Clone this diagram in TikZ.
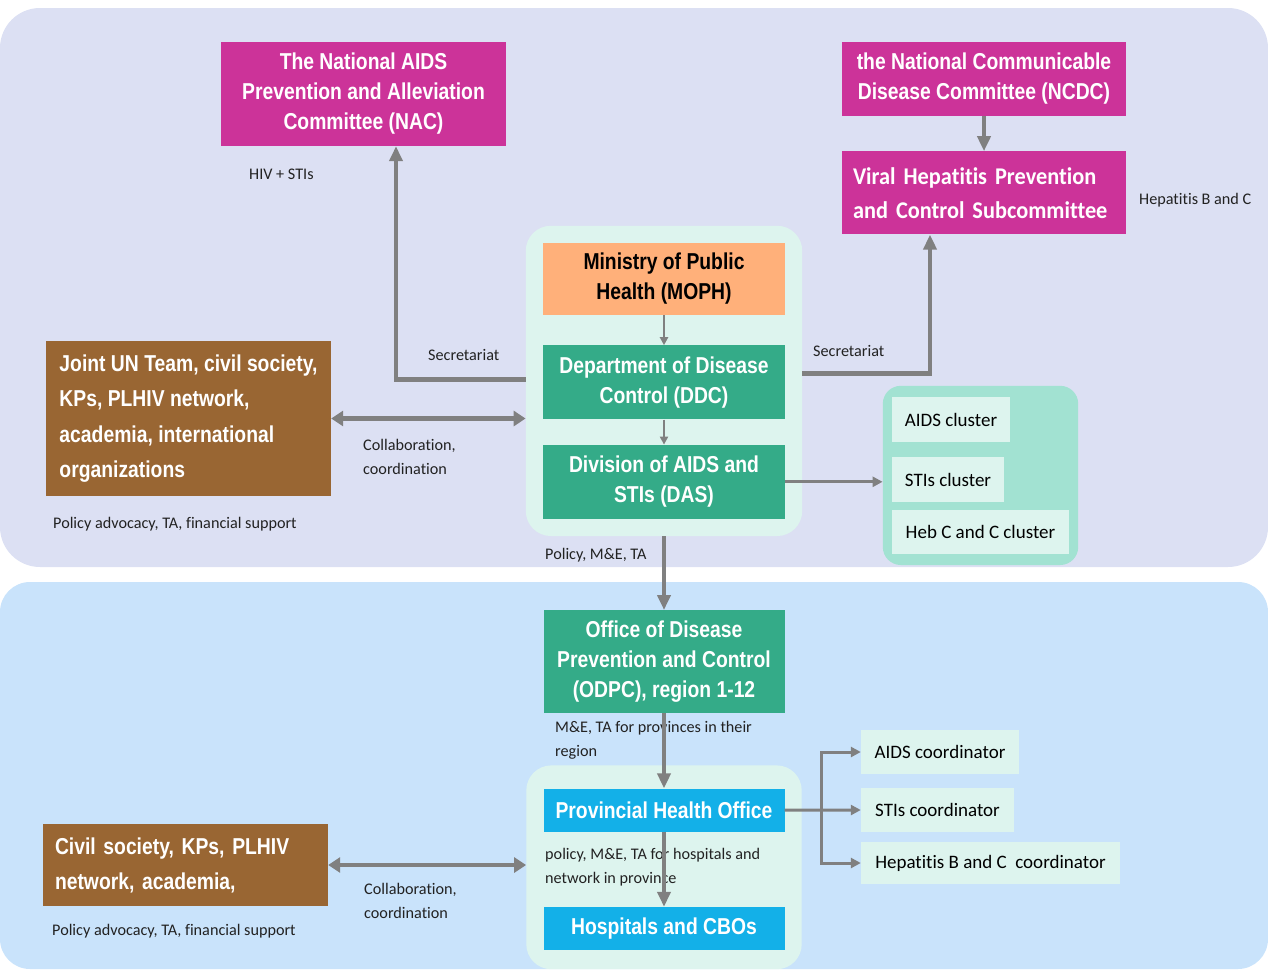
\documentclass[tikz,border=0pt]{standalone}
\usepackage{fontspec}
\setmainfont[Ligatures=NoCommon]{Carlito}
\newfontfamily\narrowfont[FakeStretch=0.84]{Liberation Sans}
\newfontfamily\viralfont[Ligatures=NoCommon, FakeStretch=0.93]{Carlito}
\usetikzlibrary{arrows.meta,positioning,calc,fit,backgrounds}

\definecolor{panelTop}{HTML}{DCE0F3}
\definecolor{panelBottom}{HTML}{C9E3FB}
\definecolor{groupMint}{HTML}{DDF4EE}
\definecolor{clusterMint}{HTML}{A2E2D2}
\definecolor{committee}{HTML}{CC3399}
\definecolor{ministry}{HTML}{FFB07A}
\definecolor{department}{HTML}{34AB88}
\definecolor{partner}{HTML}{996633}
\definecolor{provincial}{HTML}{13B0E8}
\definecolor{connector}{HTML}{808080}
\definecolor{labelText}{HTML}{222222}

\tikzstyle{org} = [rectangle, inner sep=0pt,
                   text=white,
                   align=center,
                   font=\narrowfont\bfseries\fontsize{23}{30}\selectfont]
\tikzstyle{committee box} = [org, fill=committee, minimum width=284pt]
\tikzstyle{ministry box} = [org, fill=ministry, text=black,
                   minimum width=242pt, minimum height=72pt]
\tikzstyle{department box} = [org, fill=department, minimum width=242pt]
\tikzstyle{partner box} = [org, fill=partner, minimum width=285pt,
                   align=left]
\tikzstyle{provincial box} = [org, fill=provincial,
                   minimum width=241pt, minimum height=43pt]
\tikzstyle{unit} = [rectangle, inner sep=0pt, fill=groupMint,
                   text=black,
                   font=\fontsize{19}{23}\selectfont]
\tikzstyle{group} = [rectangle, rounded corners=25pt, fill=groupMint,
                   inner sep=17pt]
\tikzstyle{note} = [inner sep=0pt, anchor=west, align=left,
                   text=labelText,
                   font=\fontsize{16.2}{24}\selectfont]
\tikzstyle{flow} = [draw=connector, line width=4.5pt,
                   -{Triangle[length=15pt,width=13pt]}]
\tikzstyle{both ways} = [draw=connector, line width=4.5pt,
                   {Triangle[length=12pt,width=15pt]}-{Triangle[length=12pt,width=15pt]}]
\tikzstyle{thin flow} = [draw=connector, line width=2pt,
                   -{Triangle[length=8pt,width=8pt]}]
\tikzstyle{branch flow} = [draw=connector, line width=3pt,
                   -{Triangle[length=10pt,width=10pt]}]

\begin{document}
\begin{tikzpicture}[x=1pt, y=-1pt]

  \useasboundingbox (0,0) rectangle (1268,969);

  % national level
  \node (nac) [committee box, minimum width=285pt, minimum height=104pt] at (363.5,94) {
    The National AIDS\\
    Prevention and Alleviation\\
    Committee (NAC)
  };

  \node (ncdc) [committee box, minimum height=74pt] at (984,79) {
    the National Communicable\\
    Disease Committee (NCDC)
  };

  \node (viral) [committee box, minimum height=83pt, below=35pt of ncdc,
                 text width=262pt, align=left,
                 font=\viralfont\bfseries\fontsize{24}{34}\selectfont] {
    Viral Hepatitis Prevention\\
    and Control Subcommittee
  };

  \node (moph) [ministry box] at (664,279) {
    Ministry of Public\\
    Health (MOPH)
  };

  \node (ddc) [department box, minimum height=74pt, below=30pt of moph] {
    Department of Disease\\
    Control (DDC)
  };

  \node (das) [department box, minimum height=74pt, below=25pt of ddc] {
    Division of AIDS and\\
    STIs (DAS)
  };

  \node (joint) [partner box, minimum height=155pt,
                 font=\narrowfont\bfseries\fontsize{23}{35.5}\selectfont] at (188.5,418.5) {
    Joint UN Team, civil society,\\
    KPs, PLHIV network,\\
    academia, international\\
    organizations
  };

  \node (aidscl) [unit, minimum width=118pt, minimum height=45pt] at (951,419.5) {AIDS cluster};
  \node (sticl) [unit, minimum width=112pt, minimum height=45pt,
                 below right=15pt and 0pt of aidscl.south west] {STIs cluster};
  \node (hebcl) [unit, minimum width=177pt, minimum height=44pt,
                 below right=7pt and 0pt of sticl.south west] {Heb C and C cluster};

  % provincial level
  \node (odpc) [department box, minimum width=241pt, minimum height=103pt,
                below=91pt of das] {
    Office of Disease\\
    Prevention and Control\\
    (ODPC), region 1-12
  };

  \node (prov) [provincial box, below=75pt of odpc] {Provincial Health Office};
  \node (hosp) [provincial box, below=75pt of prov] {Hospitals and CBOs};

  \node (aidscoord) [unit, minimum width=158pt, minimum height=44pt] at (940,752) {AIDS coordinator};
  \node (stiscoord) [unit, minimum width=153pt, minimum height=44pt] at (937.5,810) {STIs coordinator};
  \node (hepcoord) [unit, minimum width=259pt, minimum height=42pt] at (990.5,863) {Hepatitis B and C\ \ coordinator};

  \node (civil) [partner box, minimum height=82pt, text width=261pt,
                 font=\narrowfont\bfseries\fontsize{23}{35}\selectfont] at (185.5,865) {
    Civil society, KPs, PLHIV\\
    network, academia,
  };

  % panels and groups
  \begin{scope}[on background layer]
    \fill[panelTop] (0,8) [rounded corners=40pt] rectangle (1268,567);
    \fill[panelBottom] (0,582) [rounded corners=30pt] rectangle (1268,969);
    \node (mophgroup) [group, fit=(moph)(das)] {};
    \node (clusters) [group, fill=clusterMint, rounded corners=18pt,
                      inner xsep=9pt, inner ysep=11pt, fit=(aidscl)(hebcl)] {};
    \node (provgroup) [group, inner ysep=21pt, yshift=2pt, fit=(prov)(hosp)] {};
  \end{scope}

  % texts
  \node (hivnote) [note] at (249,174) {HIV + STIs};
  \node (hepnote) [note] at (1139,200) {Hepatitis B and C};
  \node (secleft) [note] at (428,355) {Secretariat};
  \node (secright) [note] at (813,351) {Secretariat};
  \node (collabtop) [note] at (363,457) {Collaboration,\\coordination};
  \node (supporttop) [note] at (53,524) {Policy advocacy, TA, financial support};
  \node (policynote) [note] at (545,555) {Policy, M\&E, TA};
  \node (odpcnote) [note] at (555,740) {M\&E, TA for provinces in their\\region};
  \node (provnote) [note] at (545,867) {policy, M\&E, TA for hospitals and\\network in province};
  \node (collabbot) [note] at (364,901) {Collaboration,\\coordination};
  \node (supportbot) [note] at (52,931) {Policy advocacy, TA, financial support};

  % connectors
  \draw[flow] ($(mophgroup.west |- ddc.west)+(0,-3)$) -| ([xshift=32.5pt]nac.south);
  \draw[flow] ($(mophgroup.east |- ddc.east)+(0,-9)$) -| ([xshift=-54pt]viral.south);
  \draw[flow] (ncdc) -- (viral);

  \draw[thin flow] (moph) -- (ddc);
  \draw[thin flow] (ddc) -- (das);

  \draw[both ways] (joint.east) -- (joint.east -| mophgroup.west);
  \draw[branch flow] (das.east) -- (das.east -| clusters.west);

  \draw[flow] (mophgroup.south -| das.south) -- (odpc.north);
  \draw[flow] (odpc) -- (prov);
  \draw[flow] (prov) -- (hosp);

  \draw[branch flow] (prov.east) -- (stiscoord.west);
  \draw[branch flow] ([xshift=37pt]prov.east) |- (aidscoord.west);
  \draw[branch flow] ([xshift=37pt]prov.east) |- (hepcoord.west);

  \draw[both ways] (civil.east) -- (civil.east -| provgroup.west);

\end{tikzpicture}
\end{document}
